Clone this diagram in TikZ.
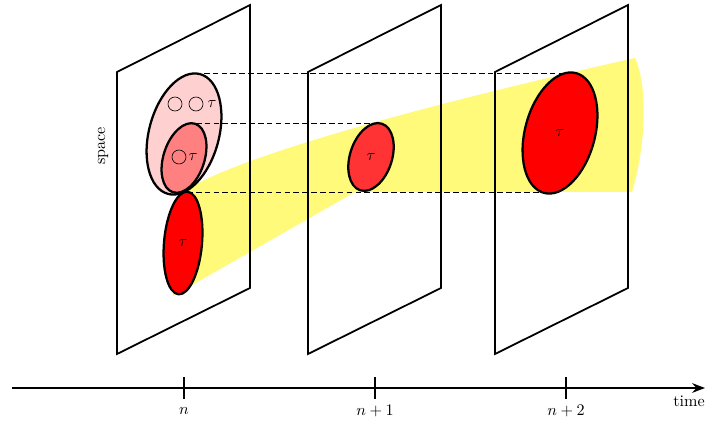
\documentclass[tikz,border=0pt]{standalone}
\usepackage{amsmath}
\usetikzlibrary{arrows.meta, positioning, calc}

\definecolor{tubeyellow}{RGB}{255,250,122}
\definecolor{lightpink}{RGB}{255,208,208}
\definecolor{midpink}{RGB}{255,128,128}
\definecolor{brightred}{RGB}{255,51,51}

\begin{document}
\begin{tikzpicture}[x=0.62pt, y=0.62pt, >=Stealth,
    slice/.style={line width=1.1pt, line join=miter},
    blob/.style={line width=1.4pt},
    guide/.style={dash pattern=on 3.5pt off 2pt, line width=0.6pt},
    tick/.style={line width=1.1pt}]
    \useasboundingbox (0,0) rectangle (705,426);

    % centres of the blobs
    \coordinate (bigc) at (184,292);
    \coordinate (midc) at (184,268);
    \coordinate (lowc) at (183,183);
    \coordinate (twoc) at (371,269);
    \coordinate (threec) at (560,293);

  % yellow tube
    \fill[tubeyellow] (186,236) -- (170,216) -- (173,130) -- (355,234) -- (632,234)
        .. controls (646,280) and (648,340) .. (635,368)
        .. controls (420,320) and (240,270) .. (186,236) -- cycle;

  % time slices
    \foreach \px in {117,308,495}
        \draw[slice] (\px,72) -- ++(0,282) -- ++(133,67) -- ++(0,-283) -- cycle;

    \node[rotate=90] (spacelbl) at (103,280) {space};

  % first slice, big blob
    \draw[blob, fill=lightpink, rotate around={75:(bigc)}] (bigc) ellipse [x radius=62, y radius=35];
    \draw[thin] (175,322) circle [radius=7];
    \draw[thin] (196,322) circle [radius=7];
    \node (tauA) at (212,322) {$\tau$};

  % dashed guides
    \coordinate (bigtop) at (195,353);
    \coordinate (threetop) at (571,353);
    \coordinate (midtop) at (187,303);
    \coordinate (twotop) at (378,303);
    \coordinate (lowtop) at (187,234);
    \coordinate (threebot) at (549,234);
    \draw[guide] (bigtop) -- (threetop);
    \draw[guide] (midtop) -- (twotop);
    \draw[guide] (lowtop) -- (threebot);

    \draw[blob, fill=midpink, rotate around={72:(midc)}] (midc) ellipse [x radius=36, y radius=20.5];
    \draw[thin] (179,269) circle [radius=7];
    \node (tauB) at (193,269) {$\tau$};

    \draw[blob, fill=red, rotate around={85:(lowc)}] (lowc) ellipse [x radius=51.5, y radius=19];
    \node (tauC) at (lowc) {$\tau$};

  % second and third slice
    \draw[blob, fill=brightred, rotate around={72:(twoc)}] (twoc) ellipse [x radius=35, y radius=21];
    \node (tauD) at (twoc) {$\tau$};

    \draw[blob, fill=red, rotate around={75:(threec)}] (threec) ellipse [x radius=62, y radius=35];
    \node (tauE) at (threec) {$\tau$};

  % time axis
    \coordinate (tstart) at (12,38);
    \coordinate (tend) at (705,38);
    \draw[line width=1.1pt, ->] (tstart) -- (tend);
    \node[anchor=north east, inner sep=0pt] (timelbl) at ($(tend)+(0,-8)$) {time};

    \foreach \tx/\tlab [count=\i] in {184/n, 375/n+1, 566/n+2} {
        \draw[tick] (\tx,49) -- (\tx,27);
        \node (tick\i) at (\tx,15) {$\tlab$};
    }

\end{tikzpicture}
\end{document}
